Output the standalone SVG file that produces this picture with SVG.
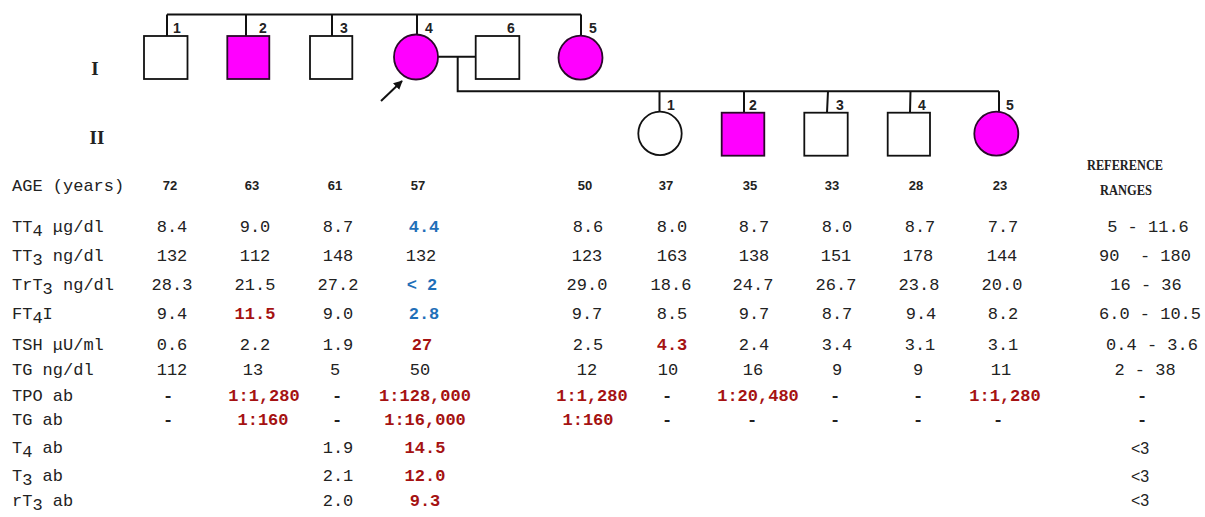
<svg xmlns="http://www.w3.org/2000/svg" width="1205" height="517" viewBox="0 0 1205 517">
  <style>
    .ln { stroke: #111; stroke-width: 2; fill: none; }
    .m { fill: #fff; stroke: #111; stroke-width: 1.8; }
    .f { fill: #ff00ff; stroke: #2a0a2a; stroke-width: 1.8; }
    .num { font-family: "Liberation Sans", Arial, sans-serif; font-weight: bold; font-size: 14px; fill: #222; text-anchor: middle; }
    .gen { font-family: "Liberation Serif", "Times New Roman", serif; font-weight: bold; font-size: 19px; fill: #222; text-anchor: middle; }
    .lbl { font-family: "Liberation Mono", "Courier New", monospace; font-size: 17px; fill: #222; }
    .v { font-family: "Liberation Mono", "Courier New", monospace; font-size: 17px; fill: #222; text-anchor: middle; white-space: pre; }
    .d { font-weight: bold; }
    .hi { font-weight: bold; fill: #a51212; }
    .lo { font-weight: bold; fill: #1f6fb8; }
    .age { font-family: "Liberation Sans", Arial, sans-serif; font-weight: bold; font-size: 13px; fill: #222; text-anchor: middle; }
    .hdr { font-family: "Liberation Serif", "Times New Roman", serif; font-weight: bold; font-size: 15px; fill: #222; text-anchor: middle; }
    .lt { font-family: "Liberation Sans", Arial, sans-serif; font-size: 16px; fill: #222; text-anchor: middle; }
  </style>
  <defs>
    <marker id="arrowhead" viewBox="0 0 10 10" refX="9" refY="5" markerWidth="9" markerHeight="9" markerUnits="userSpaceOnUse" orient="auto">
      <path d="M0,0 L10,5 L0,10 z" fill="#111"/>
    </marker>
  </defs>
  <rect width="1205" height="517" fill="#fff"/>

  <!-- generation labels -->
  <text class="gen" x="95" y="75">I</text>
  <text class="gen" x="97" y="144">II</text>

  <!-- connectors -->
  <g id="connectors">
    <path class="ln" d="M167,14.5 H581"/>
    <path class="ln" d="M167,14.5 V36 M246,14.5 V36 M332,14.5 V36 M417,14.5 V35 M581,14.5 V36"/>
    <path class="ln" d="M438,56.7 H476"/>
    <path class="ln" d="M457.7,56.7 V91.2 H999"/>
    <path class="ln" d="M659.5,91.2 V111.5 M744,91.2 V112.5 M828,91.2 L827,112.5 M910.5,91.2 L910,112.5 M999,91.2 V111.7"/>
    <path class="ln" d="M381,101 L402,81" marker-end="url(#arrowhead)"/>
  </g>

  <!-- generation I -->
  <g id="I-1"><rect class="m" x="144" y="36" width="43.5" height="43"/><text class="num" x="177" y="33">1</text></g>
  <g id="I-2"><rect class="f" x="227.3" y="36" width="42" height="43"/><text class="num" x="263" y="33">2</text></g>
  <g id="I-3"><rect class="m" x="310" y="36" width="42.3" height="43"/><text class="num" x="344" y="33">3</text></g>
  <g id="I-4"><ellipse class="f" cx="416" cy="57" rx="22" ry="22.5"/><text class="num" x="429" y="33">4</text></g>
  <g id="I-6"><rect class="m" x="475.7" y="36" width="43.6" height="43"/><text class="num" x="511" y="33">6</text></g>
  <g id="I-5"><circle class="f" cx="580.5" cy="57.7" r="22"/><text class="num" x="593" y="33">5</text></g>

  <!-- generation II -->
  <g id="II-1"><circle class="m" cx="660" cy="133.4" r="21.7"/><text class="num" x="671" y="110">1</text></g>
  <g id="II-2"><rect class="f" x="721.7" y="112.7" width="42.6" height="43"/><text class="num" x="753" y="110">2</text></g>
  <g id="II-3"><rect class="m" x="804.3" y="112.7" width="43.4" height="43"/><text class="num" x="840" y="110">3</text></g>
  <g id="II-4"><rect class="m" x="887.7" y="112.7" width="42.3" height="43"/><text class="num" x="922" y="110">4</text></g>
  <g id="II-5"><circle class="f" cx="996.3" cy="133.7" r="22"/><text class="num" x="1010" y="110">5</text></g>

  <!-- reference header -->
  <text class="hdr" x="1125" y="170" textLength="76" lengthAdjust="spacingAndGlyphs">REFERENCE</text>
  <text class="hdr" x="1126" y="195" textLength="52" lengthAdjust="spacingAndGlyphs">RANGES</text>

  <!-- row labels -->
  <g id="row-labels">
    <text class="lbl" x="12" y="191">AGE (years)</text>
    <text class="lbl" x="12" y="232">TT<tspan dy="4">4</tspan><tspan dy="-4"> μg/dl</tspan></text>
    <text class="lbl" x="12" y="261">TT<tspan dy="4">3</tspan><tspan dy="-4"> ng/dl</tspan></text>
    <text class="lbl" x="12" y="290">TrT<tspan dy="4">3</tspan><tspan dy="-4"> ng/dl</tspan></text>
    <text class="lbl" x="12" y="319">FT<tspan dy="4">4</tspan><tspan dy="-4">I</tspan></text>
    <text class="lbl" x="12" y="350">TSH μU/ml</text>
    <text class="lbl" x="12" y="375">TG ng/dl</text>
    <text class="lbl" x="12" y="401">TPO ab</text>
    <text class="lbl" x="12" y="425">TG ab</text>
    <text class="lbl" x="12" y="453">T<tspan dy="4">4</tspan><tspan dy="-4"> ab</tspan></text>
    <text class="lbl" x="12" y="481">T<tspan dy="4">3</tspan><tspan dy="-4"> ab</tspan></text>
    <text class="lbl" x="12" y="506">rT<tspan dy="4">3</tspan><tspan dy="-4"> ab</tspan></text>
  </g>

  <!-- ages -->
  <g id="ages">
    <text class="age" x="170" y="190">72</text>
    <text class="age" x="252" y="190">63</text>
    <text class="age" x="335" y="190">61</text>
    <text class="age" x="418" y="190">57</text>
    <text class="age" x="585" y="190">50</text>
    <text class="age" x="666" y="190">37</text>
    <text class="age" x="750" y="190">35</text>
    <text class="age" x="832" y="190">33</text>
    <text class="age" x="916" y="190">28</text>
    <text class="age" x="1000" y="190">23</text>
  </g>

  <!-- TT4 -->
  <g id="row-tt4">
    <text class="v" x="172" y="232">8.4</text>
    <text class="v" x="255" y="232">9.0</text>
    <text class="v" x="338" y="232">8.7</text>
    <text class="v lo" x="424" y="232">4.4</text>
    <text class="v" x="588" y="232">8.6</text>
    <text class="v" x="672" y="232">8.0</text>
    <text class="v" x="754" y="232">8.7</text>
    <text class="v" x="837" y="232">8.0</text>
    <text class="v" x="920" y="232">8.7</text>
    <text class="v" x="1003" y="232">7.7</text>
    <text class="v" x="1148" y="232">5 - 11.6</text>
  </g>
  <!-- TT3 -->
  <g id="row-tt3">
    <text class="v" x="172" y="261">132</text>
    <text class="v" x="255" y="261">112</text>
    <text class="v" x="338" y="261">148</text>
    <text class="v" x="421" y="261">132</text>
    <text class="v" x="587" y="261">123</text>
    <text class="v" x="672" y="261">163</text>
    <text class="v" x="754" y="261">138</text>
    <text class="v" x="836" y="261">151</text>
    <text class="v" x="918" y="261">178</text>
    <text class="v" x="1002" y="261">144</text>
    <text class="v" x="1145" y="261">90  - 180</text>
  </g>
  <!-- TrT3 -->
  <g id="row-trt3">
    <text class="v" x="172" y="290">28.3</text>
    <text class="v" x="255" y="290">21.5</text>
    <text class="v" x="338" y="290">27.2</text>
    <text class="v lo" x="422" y="290">&lt; 2</text>
    <text class="v" x="587" y="290">29.0</text>
    <text class="v" x="671" y="290">18.6</text>
    <text class="v" x="753" y="290">24.7</text>
    <text class="v" x="836" y="290">26.7</text>
    <text class="v" x="919" y="290">23.8</text>
    <text class="v" x="1002" y="290">20.0</text>
    <text class="v" x="1146" y="290">16 - 36</text>
  </g>
  <!-- FT4I -->
  <g id="row-ft4i">
    <text class="v" x="172" y="319">9.4</text>
    <text class="v hi" x="255" y="319">11.5</text>
    <text class="v" x="338" y="319">9.0</text>
    <text class="v lo" x="424" y="319">2.8</text>
    <text class="v" x="587" y="319">9.7</text>
    <text class="v" x="672" y="319">8.5</text>
    <text class="v" x="754" y="319">9.7</text>
    <text class="v" x="837" y="319">8.7</text>
    <text class="v" x="921" y="319">9.4</text>
    <text class="v" x="1003" y="319">8.2</text>
    <text class="v" x="1150" y="319">6.0 - 10.5</text>
  </g>
  <!-- TSH -->
  <g id="row-tsh">
    <text class="v" x="172" y="350">0.6</text>
    <text class="v" x="255" y="350">2.2</text>
    <text class="v" x="338" y="350">1.9</text>
    <text class="v hi" x="422" y="350">27</text>
    <text class="v" x="588" y="350">2.5</text>
    <text class="v hi" x="672" y="350">4.3</text>
    <text class="v" x="754" y="350">2.4</text>
    <text class="v" x="837" y="350">3.4</text>
    <text class="v" x="920" y="350">3.1</text>
    <text class="v" x="1003" y="350">3.1</text>
    <text class="v" x="1152" y="350">0.4 - 3.6</text>
  </g>
  <!-- TG -->
  <g id="row-tg">
    <text class="v" x="172" y="375">112</text>
    <text class="v" x="253" y="375">13</text>
    <text class="v" x="335" y="375">5</text>
    <text class="v" x="420" y="375">50</text>
    <text class="v" x="587" y="375">12</text>
    <text class="v" x="668" y="375">10</text>
    <text class="v" x="753" y="375">16</text>
    <text class="v" x="837" y="375">9</text>
    <text class="v" x="918" y="375">9</text>
    <text class="v" x="1001" y="375">11</text>
    <text class="v" x="1145" y="375">2 - 38</text>
  </g>
  <!-- TPO ab -->
  <g id="row-tpo">
    <text class="v d" x="168" y="401">-</text>
    <text class="v hi" x="264" y="401">1:1,280</text>
    <text class="v d" x="337" y="401">-</text>
    <text class="v hi" x="425" y="401">1:128,000</text>
    <text class="v hi" x="592" y="401">1:1,280</text>
    <text class="v d" x="667" y="401">-</text>
    <text class="v hi" x="758" y="401">1:20,480</text>
    <text class="v d" x="835" y="401">-</text>
    <text class="v d" x="918" y="401">-</text>
    <text class="v hi" x="1005" y="401">1:1,280</text>
    <text class="v d" x="1142" y="401">-</text>
  </g>
  <!-- TG ab -->
  <g id="row-tgab">
    <text class="v d" x="168" y="425">-</text>
    <text class="v hi" x="263" y="425">1:160</text>
    <text class="v d" x="337" y="425">-</text>
    <text class="v hi" x="425" y="425">1:16,000</text>
    <text class="v hi" x="588" y="425">1:160</text>
    <text class="v d" x="667" y="425">-</text>
    <text class="v d" x="752" y="425">-</text>
    <text class="v d" x="835" y="425">-</text>
    <text class="v d" x="918" y="425">-</text>
    <text class="v d" x="998" y="425">-</text>
    <text class="v d" x="1142" y="425">-</text>
  </g>
  <!-- T4 / T3 / rT3 antibodies -->
  <g id="row-ab">
    <text class="v" x="338" y="453">1.9</text>
    <text class="v hi" x="425" y="453">14.5</text>
    <text class="lt" x="1140" y="454">&lt;3</text>
    <text class="v" x="338" y="481">2.1</text>
    <text class="v hi" x="425" y="481">12.0</text>
    <text class="lt" x="1140" y="482">&lt;3</text>
    <text class="v" x="338" y="506">2.0</text>
    <text class="v hi" x="425" y="506">9.3</text>
    <text class="lt" x="1140" y="506">&lt;3</text>
  </g>
</svg>
